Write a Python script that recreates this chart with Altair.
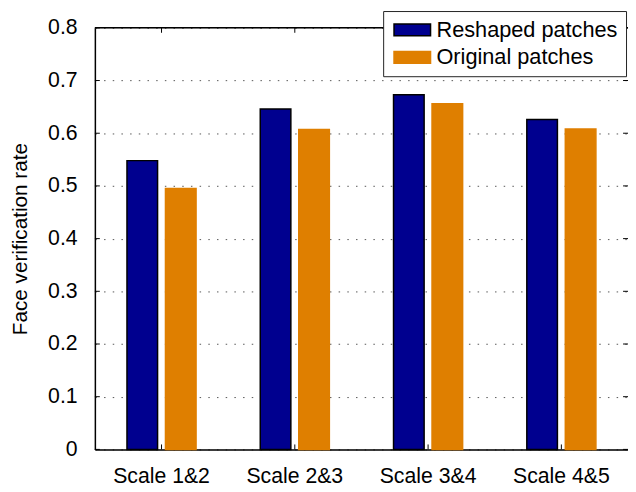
import altair as alt
import pandas as pd

categories = ["Scale 1&2", "Scale 2&3", "Scale 3&4", "Scale 4&5"]
series = ["Reshaped patches", "Original patches"]
reshaped = [0.548, 0.646, 0.673, 0.626]
original = [0.495, 0.607, 0.656, 0.608]
yticks = [0, 0.1, 0.2, 0.3, 0.4, 0.5, 0.6, 0.7, 0.8]
colors = ["#00008F", "#DF7F00"]
strokes = ["#000000", "#DF7F00"]

W = 540
H = 427
FONT = "Liberation Sans"
FS = 21.5

rows = []
for i, c in enumerate(categories):
    rows.append({"category": c, "series": series[0], "value": reshaped[i]})
    rows.append({"category": c, "series": series[1], "value": original[i]})
df = pd.DataFrame(rows)

xscale = alt.Scale(domain=categories, paddingInner=0, paddingOuter=0)
yscale = alt.Scale(domain=[0, 0.8], nice=False, zero=True)

yaxis = alt.Axis(
    values=yticks, format=".1~f", title="Face verification rate",
    grid=True, gridColor="#555555", gridDash=[1.5, 7.3], gridWidth=1,
    ticks=False, domain=True, domainColor="black", domainWidth=1.5,
    labelPadding=18, labelFontSize=FS, labelFont=FONT, labelColor="black",
    titleFontSize=21, titleFont=FONT, titleColor="black", titleFontWeight="normal",
    titlePadding=17,
)
xaxis = alt.Axis(
    title=None, labelAngle=0, ticks=False, domain=True, domainColor="black",
    domainWidth=1.5, grid=False, labelPadding=17, labelFontSize=FS,
    labelFont=FONT, labelColor="black",
)

legend = alt.Legend(
    title=None, orient="none", legendX=292, legendY=-17,
    fillColor="white", strokeColor="#222222", padding=8,
    rowPadding=6, labelFontSize=22, labelFont=FONT, labelColor="black",
    labelLimit=400,
    symbolType="M-1,-0.75H3.625V0.75H-1Z", symbolSize=256,
    symbolStrokeWidth=1.5, labelOffset=24, symbolOpacity=1,
)

bars = alt.Chart(df).mark_bar(size=31, strokeWidth=1.5).encode(
    x=alt.X("category:N", scale=xscale, axis=xaxis, sort=categories),
    xOffset=alt.XOffset("series:N", scale=alt.Scale(domain=series, paddingInner=0, paddingOuter=0.731), sort=series),
    y=alt.Y("value:Q", scale=yscale, axis=yaxis),
    fill=alt.Fill("series:N", scale=alt.Scale(domain=series, range=colors), legend=legend, sort=series),
    stroke=alt.Stroke("series:N", scale=alt.Scale(domain=series, range=strokes), legend=legend, sort=series),
)

tdf = pd.DataFrame({"value": yticks})
lticks = alt.Chart(tdf).mark_rule(color="black", strokeWidth=1).encode(
    y=alt.Y("value:Q", scale=yscale, axis=yaxis),
    x=alt.value(0), x2=alt.value(5),
)
rticks = alt.Chart(tdf).mark_rule(color="black", strokeWidth=1).encode(
    y=alt.Y("value:Q", scale=yscale, axis=yaxis),
    x=alt.value(W - 5), x2=alt.value(W),
)
cdf = pd.DataFrame({"category": categories})
bticks = alt.Chart(cdf).mark_rule(color="black", strokeWidth=1).encode(
    x=alt.X("category:N", scale=xscale, axis=xaxis, sort=categories),
    y=alt.value(H - 5), y2=alt.value(H),
)
tticks = alt.Chart(cdf).mark_rule(color="black", strokeWidth=1).encode(
    x=alt.X("category:N", scale=xscale, axis=xaxis, sort=categories),
    y=alt.value(0), y2=alt.value(5),
)
frame = alt.Chart(pd.DataFrame({"a": [0]})).mark_rule(color="black", strokeWidth=1.5).encode(
    x=alt.value(0), x2=alt.value(W), y=alt.value(0),
)

chart = alt.layer(bars, lticks, rticks, bticks, tticks, frame).properties(
    width=W, height=H,
    autosize=alt.AutoSizeParams(type="none"),
    padding={"left": 88, "top": 17, "right": 0, "bottom": 35},
).configure_view(stroke=None).configure(background="white")

chart.save("out.html", embed_options={"renderer": "svg", "actions": False})
